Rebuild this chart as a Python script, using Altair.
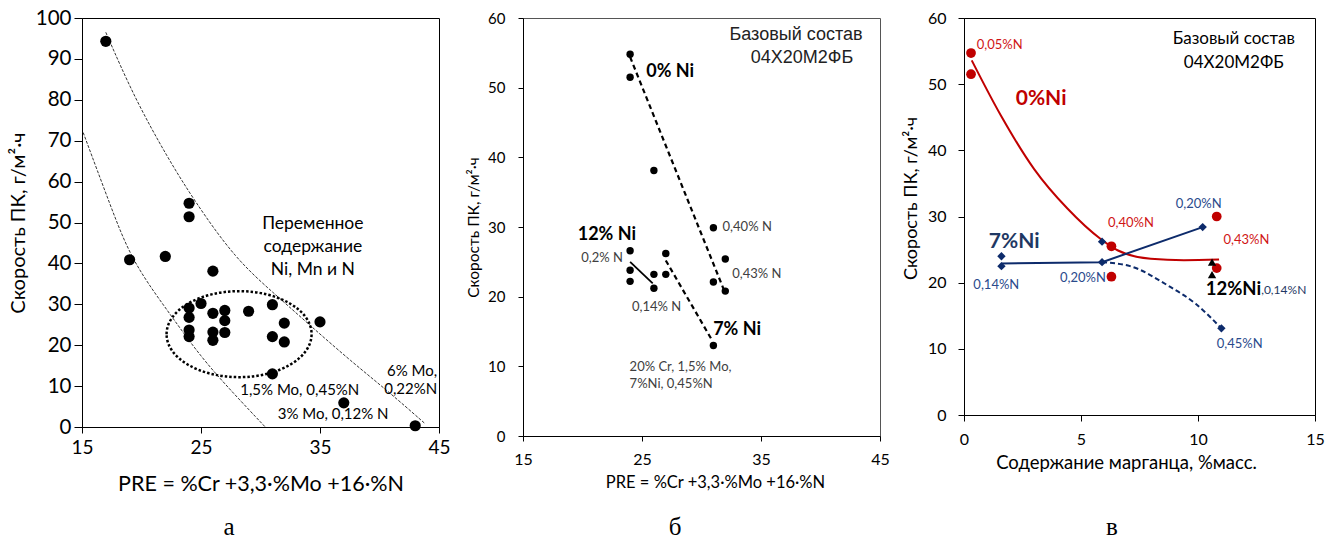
import altair as alt
import pandas as pd

FONT = "Lato"
SERIF = "Liberation Serif"

# ---------------- panel а: PRE vs pitting-corrosion rate ----------------
pre_a = [17, 24, 24, 19, 22, 26, 24, 24, 24, 24, 25, 26, 26, 26, 27, 27, 27,
         29, 31, 31, 31, 32, 32, 35, 37, 43]
rate_a = [94.3, 54.7, 51.4, 40.9, 41.7, 38.1, 29.1, 26.8, 23.7, 22.1, 30.2,
          27.8, 23.2, 21.2, 28.5, 26.0, 23.1, 28.3, 29.9, 22.1, 13.0, 25.4,
          20.8, 25.7, 5.9, 0.3]
upper_pre = [17.0, 19.4, 22.2, 24.4, 27.9, 31.4, 34.3, 37.6, 40.7, 43.8]
upper_rate = [96.5, 80.5, 65.8, 55.5, 41.0, 32.0, 24.5, 16.1, 8.8, 0.9]
lower_pre = [15.1, 17.4, 19.2, 22.2, 25.0, 27.8, 30.4]
lower_rate = [72.0, 54.0, 40.5, 28.4, 17.0, 8.0, 0.0]
group_center = [28.2, 22.7]  # centre of the dotted group outline

# ---------------- panel б: base composition 04Х20М2ФБ ----------------
pre_b = [24, 24, 26, 31, 24, 27, 32, 24, 24, 26, 26, 27, 31, 32, 31]
rate_b = [54.8, 51.5, 38.1, 29.9, 26.6, 26.2, 25.4, 23.8, 22.2, 23.2, 21.2,
          23.2, 22.1, 20.8, 13.0]
ni0_pre, ni0_rate = [24.0, 31.9], [54.4, 20.9]
ni12_pre, ni12_rate = [24.0, 25.9], [25.0, 21.9]
ni7_pre, ni7_rate = [27.0, 30.8], [25.2, 14.0]

# ---------------- panel в: rate vs manganese content ----------------
mn_ni0 = [0.3, 0.3, 6.3, 6.3, 10.8, 10.8]
rate_ni0 = [54.7, 51.5, 25.5, 20.9, 30.0, 22.2]
mn_ni7 = [1.6, 1.6, 5.9, 5.9, 10.2, 11.0]
rate_ni7 = [24.0, 22.5, 26.2, 23.1, 28.4, 13.1]
mn_ni12 = [10.6, 10.6]
rate_ni12 = [23.1, 21.2]
ni0_curve_mn = [0.33, 1.57, 2.99, 4.42, 5.84, 6.56, 7.98, 9.4, 10.9]
ni0_curve_rate = [53.6, 45.3, 37.2, 31.2, 26.6, 24.9, 23.6, 23.4, 23.5]
ni7_low_mn = [1.6, 5.9, 10.2]
ni7_low_rate = [22.9, 23.1, 28.4]
ni7_high_mn = [5.9, 7.1, 8.7, 9.9, 11.0]
ni7_high_rate = [23.1, 22.5, 19.6, 16.8, 13.1]

RED = "#C00000"
NAVY = "#0D2B6B"
NAVY_TXT = "#2A4A8C"


def df(xs, ys):
    return pd.DataFrame({"x": xs, "y": ys})


def labels(rows):
    return pd.DataFrame(rows, columns=["t", "x", "y"])


def axis_style(**kw):
    base = dict(grid=False, domainColor="black", tickColor="black",
                labelColor="black", titleColor="black", labelFont=FONT,
                titleFont=FONT, titleFontWeight="normal", labelFlush=False,
                titleBaseline="middle")
    base.update(kw)
    return alt.Axis(**base)


def make_xy(xdom, xvals, xaxis, ydom, yvals, yaxis):
    def X():
        return alt.X("x:Q", scale=alt.Scale(domain=xdom, nice=False, zero=False),
                     axis=axis_style(values=xvals, **xaxis))

    def Y():
        return alt.Y("y:Q", scale=alt.Scale(domain=ydom, nice=False, zero=False),
                     axis=axis_style(values=yvals, **yaxis))
    return X, Y


def text_layer(data, X, Y, **mk):
    return alt.Chart(data).mark_text(baseline="middle", **mk).encode(
        x=X(), y=Y(), text="t:N")


def letter(ch, px, py):
    return alt.Chart(pd.DataFrame({"t": [ch]})).mark_text(
        font=SERIF, fontSize=25, color="black", baseline="middle").encode(
        x=alt.value(px), y=alt.value(py), text="t:N")


# ---------------- panel а ----------------
W_A, H_A = 357, 409
Xa, Ya = make_xy(
    [15, 45], [15, 25, 35, 45],
    dict(title="PRE = %Cr +3,3·%Mo +16·%N", titleFontSize=21.5, titleY=57,
         labelFontSize=19, tickSize=6, labelPadding=5),
    [0, 100], list(range(0, 101, 10)),
    dict(title="Скорость ПК, г/м²·ч", titleFontSize=20, titleX=-64,
         labelFontSize=20.5, tickSize=8, labelPadding=3))

ry = 86 / 145
k = 0.5523
ellipse_path = (
    f"M -1 0 C -1 {-k*ry:.4f} {-k:.4f} {-ry:.4f} 0 {-ry:.4f} "
    f"C {k:.4f} {-ry:.4f} 1 {-k*ry:.4f} 1 0 "
    f"C 1 {k*ry:.4f} {k:.4f} {ry:.4f} 0 {ry:.4f} "
    f"C {-k:.4f} {ry:.4f} -1 {k*ry:.4f} -1 0 Z")

trend_style = dict(color="#333333", strokeWidth=1, strokeDash=[3, 1.5],
                   interpolate="basis")
panel_a = alt.layer(
    alt.Chart(df(upper_pre, upper_rate)).mark_line(**trend_style).encode(
        x=Xa(), y=Ya(), order="x:Q"),
    alt.Chart(df(lower_pre, lower_rate)).mark_line(**trend_style).encode(
        x=Xa(), y=Ya(), order="x:Q"),
    alt.Chart(df([group_center[0]], [group_center[1]])).mark_point(
        shape=ellipse_path, size=145 ** 2, filled=False, stroke="black",
        strokeWidth=2.5, strokeDash=[2.5, 2], opacity=1).encode(x=Xa(), y=Ya()),
    alt.Chart(df(pre_a, rate_a)).mark_circle(
        size=125, color="black", opacity=1).encode(x=Xa(), y=Ya()),
    text_layer(labels([("Переменное", 34.4, 49.6), ("содержание", 34.4, 43.9),
                       ("Ni, Mn и N", 34.4, 38.3)]), Xa, Ya,
               font=FONT, fontSize=17.5, align="center", color="black"),
    text_layer(labels([("6% Mo,", 44.85, 13.7), ("0,22%N", 44.85, 9.2)]),
               Xa, Ya, font=FONT, fontSize=15, align="right", color="black"),
    text_layer(labels([("1,5% Mo, 0,45%N", 33.3, 9.0),
                       ("3% Mo, 0,12% N", 36.1, 3.1)]),
               Xa, Ya, font=FONT, fontSize=15, align="center", color="black"),
    letter("а", 147, 509),
).properties(width=W_A, height=H_A,
             view=alt.ViewBackground(stroke="black", strokeWidth=1))

# ---------------- panel б ----------------
W_B, H_B = 357, 418
Xb, Yb = make_xy(
    [15, 45], [15, 25, 35, 45],
    dict(title="PRE = %Cr +3,3·%Mo +16·%N", titleFontSize=16.5, titleY=46,
         titleX=192, labelFontSize=16, tickSize=5, labelPadding=10),
    [0, 60], list(range(0, 61, 10)),
    dict(title="Скорость ПК, г/м²·ч", titleFontSize=15.5, titleX=-50,
         labelFontSize=15, tickSize=5, labelPadding=13))

dash_b = dict(color="black", strokeWidth=2.2, strokeDash=[5, 3.5])
small_b = dict(font=FONT, fontSize=13, align="left", color="#404040")
bold_b = dict(font=FONT, fontSize=18, fontWeight="bold", align="left",
              color="black")
panel_b = alt.layer(
    alt.Chart(df(ni0_pre, ni0_rate)).mark_line(**dash_b).encode(x=Xb(), y=Yb()),
    alt.Chart(df(ni7_pre, ni7_rate)).mark_line(**dash_b).encode(x=Xb(), y=Yb()),
    alt.Chart(df(ni12_pre, ni12_rate)).mark_line(
        color="black", strokeWidth=1.8).encode(x=Xb(), y=Yb()),
    alt.Chart(df(pre_b, rate_b)).mark_circle(
        size=55, color="black", opacity=1).encode(x=Xb(), y=Yb()),
    text_layer(labels([("0% Ni", 25.36, 52.2), ("12% Ni", 19.6, 28.85),
                       ("7% Ni", 30.98, 15.26)]), Xb, Yb, **bold_b),
    text_layer(labels([("0,2% N", 19.89, 25.5), ("0,40% N", 31.77, 30.0),
                       ("0,43% N", 32.58, 23.25), ("0,14% N", 24.16, 18.5),
                       ("20% Cr, 1,5% Mo,", 23.96, 9.9),
                       ("7%Ni, 0,45%N", 23.96, 7.5)]), Xb, Yb, **small_b),
    text_layer(labels([("Базовый состав", 37.94, 57.6),
                       ("04Х20М2ФБ", 38.45, 54.2)]), Xb, Yb,
               font="Liberation Sans", fontSize=18, align="center",
               color="#222222"),
    letter("б", 152, 509),
).properties(width=W_B, height=H_B,
             view=alt.ViewBackground(stroke="#555555", strokeWidth=1))

# ---------------- panel в ----------------
W_C, H_C = 351, 397
Xc, Yc = make_xy(
    [0, 15], [0, 5, 10, 15],
    dict(title="Содержание марганца, %масс.", titleFontSize=18.5, titleY=47,
         titleX=162, labelFontSize=16, tickSize=6, labelPadding=10),
    [0, 60], list(range(0, 61, 10)),
    dict(title="Скорость ПК, г/м²·ч", titleFontSize=18, titleX=-53,
         titleY=180, labelFontSize=16, tickSize=6, labelPadding=12))

panel_c = alt.layer(
    alt.Chart(df(ni0_curve_mn, ni0_curve_rate)).mark_line(
        color=RED, strokeWidth=2, interpolate="monotone").encode(x=Xc(), y=Yc()),
    alt.Chart(df(ni7_low_mn, ni7_low_rate)).mark_line(
        color=NAVY, strokeWidth=2).encode(x=Xc(), y=Yc()),
    alt.Chart(df(ni7_high_mn, ni7_high_rate)).mark_line(
        color=NAVY, strokeWidth=2, strokeDash=[5, 3],
        interpolate="monotone").encode(x=Xc(), y=Yc()),
    alt.Chart(df(mn_ni0, rate_ni0)).mark_circle(
        size=95, color=RED, opacity=1).encode(x=Xc(), y=Yc()),
    alt.Chart(df(mn_ni7, rate_ni7)).mark_point(
        shape="diamond", size=70, filled=True, color=NAVY, opacity=1).encode(
        x=Xc(), y=Yc()),
    alt.Chart(df(mn_ni12, rate_ni12)).mark_point(
        shape="triangle-up", size=70, filled=True, color="black",
        opacity=1).encode(x=Xc(), y=Yc()),
    text_layer(labels([("0,05%N", 0.54, 55.9), ("0,40%N", 6.15, 29.06),
                       ("0,43%N", 11.09, 26.5)]), Xc, Yc,
               font=FONT, fontSize=13, align="left", color="#D01515"),
    text_layer(labels([("0,20%N", 9.05, 31.96), ("0,14%N", 0.40, 19.7),
                       ("0,20%N", 4.10, 20.7), ("0,45%N", 10.8, 10.8)]),
               Xc, Yc, font=FONT, fontSize=13, align="left", color=NAVY_TXT),
    text_layer(labels([(",0,14%N", 12.7, 18.9)]), Xc, Yc, font=FONT,
               fontSize=12, align="left", color="#1F3864"),
    text_layer(labels([("0%Ni", 2.21, 47.8)]), Xc, Yc, font=FONT, fontSize=21,
               fontWeight="bold", align="left", color=RED),
    text_layer(labels([("7%Ni", 1.06, 26.2)]), Xc, Yc, font=FONT, fontSize=21,
               fontWeight="bold", align="left", color="#1F3864"),
    text_layer(labels([("12%Ni", 12.7, 19.06)]), Xc, Yc, font=FONT,
               fontSize=18.5, fontWeight="bold", align="right", color="black"),
    text_layer(labels([("Базовый состав", 11.53, 56.9),
                       ("04Х20М2ФБ", 11.53, 53.2)]), Xc, Yc,
               font=FONT, fontSize=17, align="center", color="black"),
    letter("в", 148, 509),
).properties(width=W_C, height=H_C,
             view=alt.ViewBackground(stroke="black", strokeWidth=1))

chart = alt.HConcatChart(
    hconcat=[panel_a, panel_b, panel_c], spacing=84, bounds="flush",
    padding={"left": 7, "top": 7, "right": 0, "bottom": 0},
).configure(background="white", font=FONT)

chart.save("out.html", embed_options={"renderer": "svg", "actions": False})
